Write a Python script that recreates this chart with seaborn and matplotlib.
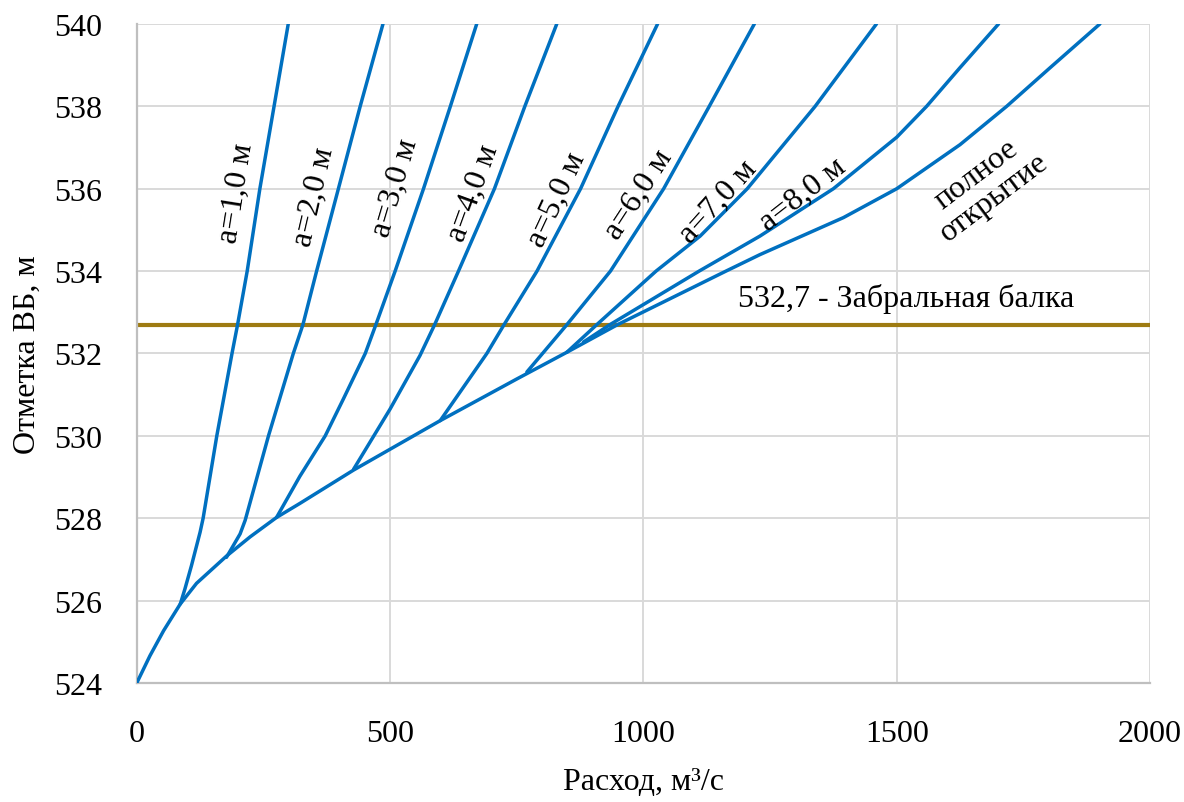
import matplotlib
matplotlib.use("Agg")
import matplotlib.pyplot as plt
import seaborn as sns
import pandas as pd

# Discharge Q (m3/s) vs. headwater level H (m) for partial gate openings
q_full = [0, 26, 53, 86, 118, 177, 224, 276, 322, 428, 599, 750, 849, 949,
          1163, 1230, 1296, 1395, 1500, 1625, 1717, 1803, 1901]
h_full = [524, 524.66, 525.27, 525.92, 526.42, 527.08, 527.55, 528.02, 528.36,
          529.17, 530.37, 531.38, 532.03, 532.7, 534.0, 534.4, 534.76, 535.3,
          536.0, 537.07, 538.0, 538.94, 540]

q_a1 = [86, 95, 108, 125, 131, 158, 188, 199, 218, 243, 271, 299]
h_a1 = [525.92, 526.28, 526.85, 527.66, 528.0, 530, 532, 532.7, 534, 536, 538, 540]

q_a2 = [177, 204, 214, 260, 309, 328, 355, 398, 441, 486]
h_a2 = [527.05, 527.62, 527.95, 530, 532, 532.7, 534, 536, 538, 540]

q_a3 = [276, 322, 372, 408, 451, 472, 510, 566, 619, 671]
h_a3 = [528.02, 529.02, 530, 530.9, 532, 532.7, 534, 536, 538, 540]

q_a4 = [428, 500, 559, 588, 635, 706, 766, 829]
h_a4 = [529.19, 530.65, 531.95, 532.7, 534, 536, 538, 540]

q_a5 = [599, 691, 725, 790, 876, 950, 1028]
h_a5 = [530.37, 532, 532.7, 534, 536, 538, 540]

q_a6 = [770, 849, 935, 1040, 1130, 1219]
h_a6 = [531.55, 532.7, 534, 536, 538, 540]

q_a7 = [849, 908, 1025, 1112, 1205, 1339, 1460]
h_a7 = [532.03, 532.7, 534, 534.85, 536, 538, 540]

q_a8 = [882, 934, 1110, 1230, 1375, 1500, 1559, 1625, 1701]
h_a8 = [532.28, 532.7, 534, 534.85, 536, 537.25, 538, 538.94, 540]

beam_level = 532.7
beam_label = "532,7 - Забральная балка"

curve_labels = ["a=1,0 м", "a=2,0 м", "a=3,0 м", "a=4,0 м", "a=5,0 м",
                "a=6,0 м", "a=7,0 м", "a=8,0 м", "полное\nоткрытие"]

x_ticks = [0, 500, 1000, 1500, 2000]
y_ticks = [524, 526, 528, 530, 532, 534, 536, 538, 540]

x_title = "Расход, м³/с"
y_title = "Отметка ВБ, м"

sns.set_theme(style="whitegrid")
plt.rcParams["font.family"] = ["Liberation Serif", "DejaVu Serif"]
plt.rcParams["axes.unicode_minus"] = False

LINE_BLUE = "#0070C0"
BEAM_COLOR = "#9E7B12"
FS = 23

fig = plt.figure(figsize=(11.84, 8.03), dpi=100)
ax = fig.add_axes([0.1155, 0.1482, 0.8558, 0.8207])

series = [
    (q_a1, h_a1), (q_a2, h_a2), (q_a3, h_a3), (q_a4, h_a4), (q_a5, h_a5),
    (q_a6, h_a6), (q_a7, h_a7), (q_a8, h_a8), (q_full, h_full),
]
for q, h in series:
    df = pd.DataFrame({"Q": q, "H": h})
    sns.lineplot(data=df, x="Q", y="H", ax=ax, color=LINE_BLUE, linewidth=2.5,
                 estimator=None, sort=False, zorder=3)

ax.axhline(beam_level, color=BEAM_COLOR, linewidth=3.0, zorder=2)

ax.set_xlim(0, 2000)
ax.set_ylim(524, 540)
ax.set_xticks(x_ticks)
ax.set_yticks(y_ticks)
ax.set_xticklabels([str(v) for v in x_ticks], fontsize=FS, color="black")
ax.set_yticklabels([str(v) for v in y_ticks], fontsize=FS, color="black")
ax.tick_params(axis="x", length=0, pad=26)
ax.tick_params(axis="y", length=0, pad=25)
ax.set_xlabel(x_title, fontsize=FS, color="black")
ax.set_ylabel(y_title, fontsize=FS, color="black")
ax.xaxis.set_label_coords(0.5, -0.128)
ax.yaxis.set_label_coords(-0.094, 0.5)

ax.grid(True, color="#D9D9D9", linewidth=1.4)
ax.set_facecolor("white")
for side in ["top", "right"]:
    ax.spines[side].set_visible(False)
for side in ["left", "bottom"]:
    ax.spines[side].set_color("#BFBFBF")
    ax.spines[side].set_linewidth(1.6)

# Curve annotations
label_pos = [(196, 535.92, 81), (349, 535.82, 77), (510, 536.04, 73.5),
             (664, 535.92, 70), (830, 535.75, 65), (990, 535.87, 57),
             (1147, 535.70, 48), (1315, 535.87, 38), (1675, 536.07, 37)]
for text, (x, y, rot) in zip(curve_labels, label_pos):
    ax.text(x, y, text, rotation=rot, rotation_mode="anchor", ha="center",
            va="center", fontsize=FS, color="black", linespacing=1.0, zorder=4)

ax.text(1519, 533.35, beam_label, ha="center", va="center", fontsize=FS,
        color="black", zorder=4)

fig.savefig("out.png", dpi=100, facecolor="white")
